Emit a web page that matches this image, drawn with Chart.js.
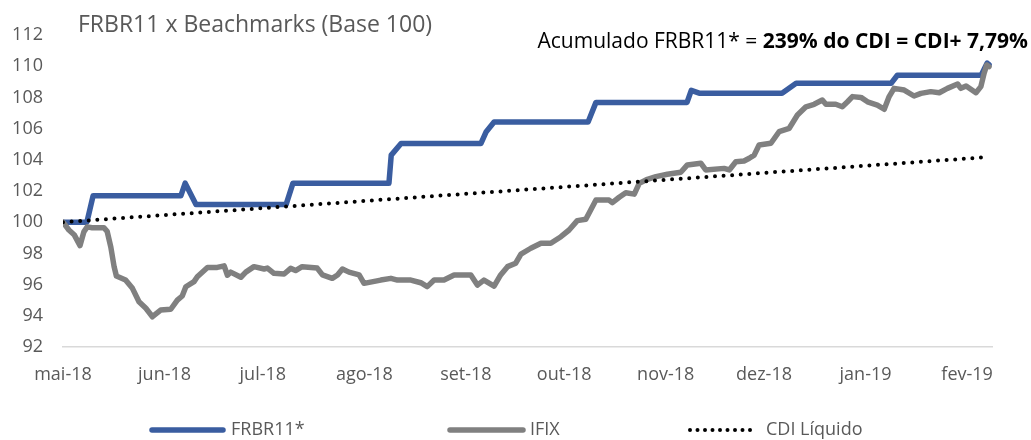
<!DOCTYPE html>
<html><head><meta charset="utf-8">
<script src="https://cdn.jsdelivr.net/npm/chart.js@4.4.0/dist/chart.umd.min.js"></script>
<style>html,body{margin:0;padding:0;background:#fff;overflow:hidden}#wrap{width:1031px;height:440px;position:relative}</style>
</head><body><div id="wrap"><canvas id="c" width="1031" height="440"></canvas></div>
<script>
// ---- DATA (x = days since 1 May 2018) ----
const monthDays = [0, 31, 61, 92, 123, 153, 184, 214, 245, 276];
const monthLabels = ['mai-18','jun-18','jul-18','ago-18','set-18','out-18','nov-18','dez-18','jan-19','fev-19'];

const frbrDays   = [0, 7.3, 9.2, 36, 37.3, 40.6, 68.1, 70.2, 99.5, 100.2, 103.2, 127.6, 129.2, 131.6, 160.3, 162.7, 190.5, 191.8, 194.2, 219.5, 223.8, 252.8, 254.7, 280.3, 282.1, 282.7];
const frbrValues = [100, 100, 101.7, 101.7, 102.5, 101.13, 101.13, 102.5, 102.5, 104.3, 105.05, 105.05, 105.8, 106.42, 106.42, 107.68, 107.68, 108.45, 108.27, 108.27, 108.9, 108.9, 109.42, 109.42, 110.2, 110.1];

const ifixDays = [0, 1.8, 3.4, 5.2, 6.4, 7.4, 8.9, 12.5, 13.5, 14.6, 15.6, 16.3, 19.1, 21.2, 23.2, 25.3, 27.3, 29.8, 32.9, 34.9, 36.4, 37.5, 40, 41, 44.1, 47.1, 49.2, 50.2, 51.2, 54.3, 55.8, 58.3, 61.4, 62.4, 64.4, 67.5, 69.5, 71, 73, 77.6, 79.2, 82.2, 83.8, 85.3, 87.3, 90.4, 91.9, 97, 100.1, 102.1, 106.2, 109.2, 111.2, 113.3, 116.3, 119.4, 124.5, 126.5, 128.5, 131.6, 133.6, 135.7, 138.2, 139.8, 142.8, 145.9, 148.9, 152, 154.5, 157, 159.6, 162.7, 166.7, 167.7, 169.8, 171.8, 174.4, 175.9, 178.4, 181, 184.5, 188.6, 190.6, 194.7, 196.2, 201.8, 203.4, 205.4, 207.9, 209.5, 211, 212.5, 216.1, 218.6, 221.7, 224.2, 226.8, 229.3, 231.8, 232.9, 235.9, 237.9, 239.5, 241, 243.6, 245.6, 248.6, 250.7, 252.2, 253.7, 256.8, 259.8, 261.9, 264.9, 267.5, 270, 273.1, 274.1, 275.7, 278.7, 280.2, 281.2, 282, 282.7];
const ifixValues = [100, 99.5, 99.2, 98.5, 99.4, 99.7, 99.65, 99.65, 99.4, 98.4, 97.15, 96.55, 96.3, 95.76, 94.9, 94.48, 93.94, 94.37, 94.42, 95.0, 95.27, 95.86, 96.19, 96.5, 97.1, 97.1, 97.2, 96.6, 96.8, 96.47, 96.8, 97.15, 97.0, 97.06, 96.72, 96.68, 97.04, 96.9, 97.15, 97.06, 96.62, 96.4, 96.62, 97.0, 96.8, 96.62, 96.08, 96.29, 96.4, 96.29, 96.29, 96.12, 95.87, 96.29, 96.29, 96.62, 96.62, 95.97, 96.29, 95.9, 96.62, 97.15, 97.37, 97.96, 98.33, 98.65, 98.65, 99.07, 99.5, 100.1, 100.19, 101.42, 101.42, 101.25, 101.6, 101.89, 101.8, 102.49, 102.75, 102.92, 103.07, 103.2, 103.67, 103.78, 103.35, 103.45, 103.35, 103.88, 103.92, 104.1, 104.3, 104.95, 105.06, 105.8, 106.02, 106.87, 107.4, 107.56, 107.83, 107.56, 107.56, 107.4, 107.72, 108.05, 108.0, 107.72, 107.51, 107.24, 108.05, 108.58, 108.47, 108.09, 108.26, 108.37, 108.3, 108.58, 108.86, 108.58, 108.73, 108.3, 108.69, 109.55, 110.08, 109.97];

const cdiDays   = [0, 31, 61, 92, 123, 153, 184, 214, 245, 276, 282.7];
const cdiValues = [100, 100.46, 100.90, 101.36, 101.82, 102.26, 102.72, 103.16, 103.62, 104.08, 104.18];

const seriesNames = ['FRBR11*', 'IFIX', 'CDI Líquido'];
const titleText = 'FRBR11 x Beachmarks (Base 100)';
const noteRegular = 'Acumulado FRBR11* = ';
const noteBold = '239% do CDI = CDI+ 7,79%';

// ---- build ----
const zip = (xs, ys) => xs.map((x, i) => ({ x: x, y: ys[i] }));
const FONT = '"Open Sans", "DejaVu Sans", sans-serif';
const GREY = '#595959';

const legendLayout = [
  { x1: 152, x2: 223, tx: 231 },
  { x1: 450, x2: 523, tx: 530 },
  { x1: 690, x2: 752, tx: 766 }
];

const overlay = {
  id: 'overlay',
  afterDraw(chart) {
    const ctx = chart.ctx;
    ctx.save();
    // title
    ctx.fillStyle = GREY;
    ctx.font = '23px ' + FONT;
    ctx.textBaseline = 'alphabetic';
    ctx.textAlign = 'left';
    ctx.fillText(titleText, 78, 32);
    // note (right aligned)
    ctx.fillStyle = '#000';
    ctx.font = 'bold 21px ' + FONT;
    const wb = ctx.measureText(noteBold).width;
    ctx.font = '21px ' + FONT;
    const wr = ctx.measureText(noteRegular).width;
    const right = 1028;
    ctx.fillText(noteRegular, right - wb - wr, 48);
    ctx.font = 'bold 21px ' + FONT;
    ctx.fillText(noteBold, right - wb, 48);
    // legend
    const ly = 430;
    chart.data.datasets.forEach((ds, i) => {
      const L = legendLayout[i];
      ctx.beginPath();
      ctx.strokeStyle = ds.borderColor;
      ctx.lineWidth = ds.borderWidth;
      ctx.lineCap = ds.borderCapStyle || 'butt';
      ctx.setLineDash(ds.borderDash ? [0, 7.5] : []);
      ctx.moveTo(L.x1, ly);
      ctx.lineTo(L.x2, ly);
      ctx.stroke();
      ctx.setLineDash([]);
      ctx.fillStyle = GREY;
      ctx.font = '18px ' + FONT;
      ctx.textBaseline = 'middle';
      ctx.fillText(ds.label, L.tx, ly);
    });
    ctx.restore();
  }
};

new Chart(document.getElementById('c'), {
  type: 'line',
  data: {
    datasets: [
      { label: seriesNames[0], data: zip(frbrDays, frbrValues), borderColor: '#3A5DA0', borderWidth: 5.5, borderJoinStyle: 'round', borderCapStyle: 'round', pointRadius: 0, tension: 0, order: 3 },
      { label: seriesNames[1], data: zip(ifixDays, ifixValues), borderColor: '#808080', borderWidth: 5.5, borderJoinStyle: 'round', borderCapStyle: 'round', pointRadius: 0, tension: 0, order: 2 },
      { label: seriesNames[2], data: zip(cdiDays, cdiValues), borderColor: '#000000', borderWidth: 4, borderDash: [0, 8.6], borderCapStyle: 'round', pointRadius: 0, tension: 0, order: 1 }
    ]
  },
  options: {
    responsive: false,
    animation: false,
    parsing: true,
    layout: { padding: { top: 35, right: 39, left: 0, bottom: 0 } },
    plugins: { legend: { display: false }, tooltip: { enabled: false }, title: { display: false } },
    scales: {
      x: {
        type: 'linear', min: 0, max: 283.6,
        afterBuildTicks: s => { s.ticks = monthDays.map(v => ({ value: v })); },
        afterFit: s => { s.height = 93; },
        ticks: { autoSkip: false, maxRotation: 0, minRotation: 0, padding: 17, color: GREY, font: { family: FONT, size: 18 },
          callback: v => monthLabels[monthDays.indexOf(v)] },
        grid: { display: false, drawTicks: false },
        border: { display: true, color: '#D9D9D9', width: 1.5 }
      },
      y: {
        min: 92, max: 112,
        afterFit: s => { s.width = 63; },
        ticks: { stepSize: 2, padding: 20, color: GREY, font: { family: FONT, size: 18 } },
        grid: { display: false, drawTicks: false },
        border: { display: false }
      }
    }
  },
  plugins: [overlay]
});
</script>
</body></html>
